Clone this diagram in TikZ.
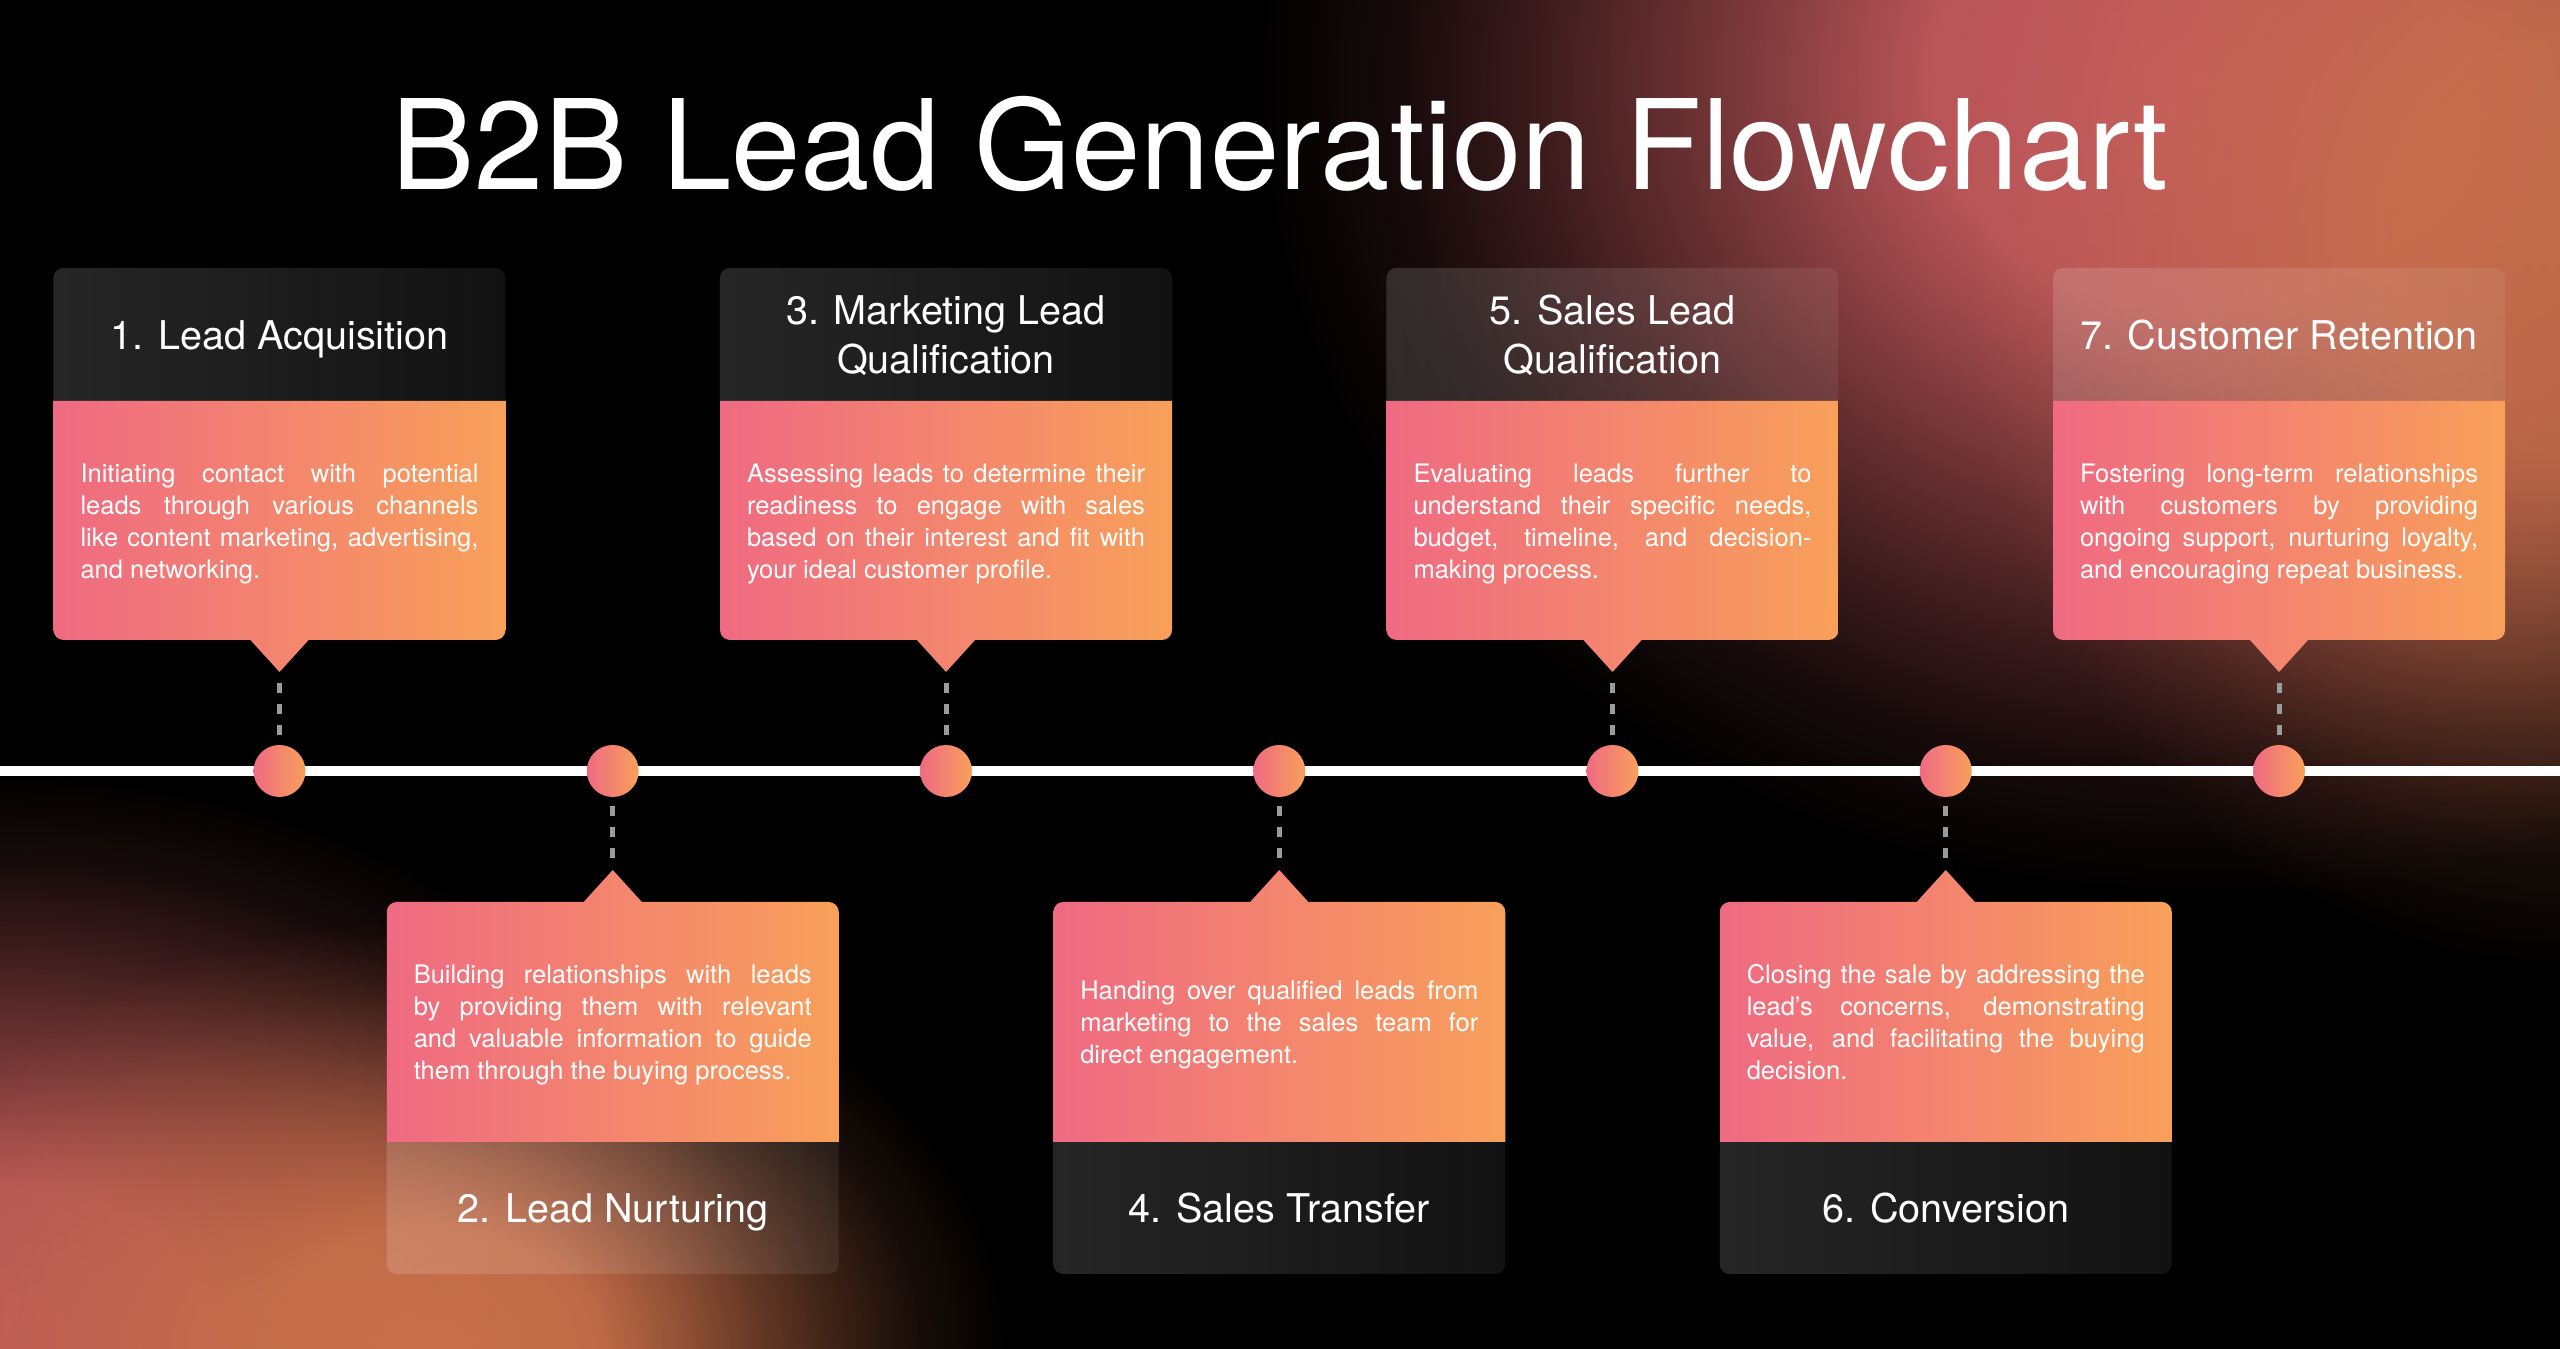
\documentclass[tikz,border=0pt]{standalone}
\usepackage{fontspec}
\setmainfont{TeX Gyre Heros}
\usetikzlibrary{fadings}

\definecolor{pinkL}{HTML}{EF6A82}
\definecolor{orR}{HTML}{F8A05A}
\definecolor{dashgray}{HTML}{9B9B9B}
\definecolor{glowA}{HTML}{C45A5E}
\definecolor{glowB}{HTML}{C8704C}
\definecolor{glowC}{HTML}{BE5A5A}
\definecolor{glowD}{HTML}{C8704A}

\pgfdeclareradialshading{glowsh}{\pgfpointorigin}{color(0bp)=(white); color(7bp)=(white!95!black); color(12.5bp)=(white!60!black); color(17.5bp)=(white!30!black); color(21bp)=(white!12!black); color(25bp)=(black); color(50bp)=(black)}
\tikzfading[name=glowfade, shading=glowsh]
\tikzfading[name=hdrfade, left color=transparent!85, right color=transparent!93]

\newcommand{\bodysetup}{\hyphenpenalty=10000 \tolerance=9999 \emergencystretch=0pt \noindent\strut}

\tikzset{
  cardbody/.style={left color=pinkL, right color=orR},
  cardhead/.style={fill=white, path fading=hdrfade},
  headtext/.style={text=white, font=\fontsize{19.8}{24.5}\selectfont, align=center, anchor=north, inner sep=0pt},
  bodytext/.style={text=white, font=\fontsize{12.75}{16}\selectfont, text width=199pt, align=justify, anchor=north, inner sep=0pt},
  conn/.style={draw=dashgray, line width=2.5pt, dash pattern=on 5pt off 5.5pt},
  dot/.style={circle, minimum size=26pt, inner sep=0pt, left color=pinkL, right color=orR},
  timeline/.style={draw=white, line width=5pt},
  glow/.style={path fading=glowfade},
}

\newcommand{\TopCard}[5]{%
  \shade[cardbody, rounded corners=5pt] ({#2-226},709) -- ({#2+226},709) -- ({#2+226},948) -- ({#2-226},948) -- cycle
     [sharp corners] ({#2-226},928) -- ({#2+226},928) -- ({#2+226},948) -- ({#2-226},948) -- cycle
     ({#2},677) -- ({#2+30},710) -- ({#2-30},710) -- cycle;
  \fill[cardhead, rounded corners=5pt] ({#2-226},948) -- ({#2+226},948) -- ({#2+226},1081) -- ({#2-226},1081) -- cycle
     [sharp corners] ({#2-226},948) -- ({#2+226},948) -- ({#2+226},968) -- ({#2-226},968) -- cycle;
  \node[headtext] (h#1) at (#2,#4) {\strut #3};
  \node[bodytext] (b#1) at (#2,889.7) {\bodysetup #5};
  \coordinate (tip#1) at (#2,677);
}

\newcommand{\BotCard}[5]{%
  \shade[cardbody, rounded corners=5pt] ({#2-226},207) -- ({#2+226},207) -- ({#2+226},447) -- ({#2-226},447) -- cycle
     [sharp corners] ({#2-226},207) -- ({#2+226},207) -- ({#2+226},227) -- ({#2-226},227) -- cycle
     ({#2-30},446) -- ({#2+30},446) -- ({#2},479) -- cycle;
  \fill[cardhead, rounded corners=5pt] ({#2-226},75) -- ({#2+226},75) -- ({#2+226},207) -- ({#2-226},207) -- cycle
     [sharp corners] ({#2-226},187) -- ({#2+226},187) -- ({#2+226},207) -- ({#2-226},207) -- cycle;
  \node[headtext] (h#1) at (#2,161.3) {\strut #3};
  \node[bodytext] (b#1) at (#2,#5) {\bodysetup #4};
  \coordinate (tip#1) at (#2,479);
}

\begin{document}
\begin{tikzpicture}[x=0.5pt, y=0.5pt]
\useasboundingbox (0,0) rectangle (2560,1349);
\fill[black] (0,0) rectangle (2560,1349);

% background glows
\begin{scope}
\clip (0,0) rectangle (2560,1349);
\fill[glowA, glow] (2200,1269) ellipse (950 and 820);
\fill[glowB, glow, fill opacity=0.9] (2560,1099) ellipse (600 and 720);
\fill[glowC, glow] (0,0) ellipse (760 and 580);
\fill[glowD, glow] (430,0) ellipse (580 and 430);
\end{scope}

% title
\node[text=white, font=\fontsize{62.4}{70}\selectfont, anchor=base] (title) at (1280,1159) {B2B Lead Generation Flowchart};

% timeline
\coordinate (tlL) at (0,578);
\coordinate (tlR) at (2560,578);
\draw[timeline] (tlL) -- (tlR);

% cards
\TopCard{1}{279.5}{1. Lead Acquisition}{1034.3}{Initiating contact with potential\linebreak leads through various channels\linebreak like content marketing, advertising,\linebreak and networking.}
\TopCard{3}{946}{3. Marketing Lead\\Qualification}{1059.3}{Assessing leads to determine their\linebreak readiness to engage with sales\linebreak based on their interest and fit with\linebreak your ideal customer profile.}
\TopCard{5}{1612.5}{5. Sales Lead\\Qualification}{1059.3}{Evaluating leads further to\linebreak understand their specific needs,\linebreak budget, timeline, and decision-\linebreak making process.}
\TopCard{7}{2279}{7. Customer Retention}{1034.3}{Fostering long-term relationships\linebreak with customers by providing\linebreak ongoing support, nurturing loyalty,\linebreak and encouraging repeat business.}

\BotCard{2}{612.75}{2. Lead Nurturing}{Building relationships with leads\linebreak by providing them with relevant\linebreak and valuable information to guide\linebreak them through the buying process.}{388.25}
\BotCard{4}{1279.25}{4. Sales Transfer}{Handing over qualified leads from\linebreak marketing to the sales team for\linebreak direct engagement.}{372.25}
\BotCard{6}{1945.75}{6. Conversion}{Closing the sale by addressing the\linebreak lead's concerns, demonstrating\linebreak value, and facilitating the buying\linebreak decision.}{388.25}

% timeline dots
\node[dot] (d1) at (279.5,578) {};
\node[dot] (d2) at (612.75,578) {};
\node[dot] (d3) at (946,578) {};
\node[dot] (d4) at (1279.25,578) {};
\node[dot] (d5) at (1612.5,578) {};
\node[dot] (d6) at (1945.75,578) {};
\node[dot] (d7) at (2279,578) {};

% connectors
\foreach \i in {1,3,5,7} {\draw[conn, shorten <=5.5pt, shorten >=5pt] (tip\i) -- (d\i);}
\foreach \i in {2,4,6} {\draw[conn, shorten <=6pt, shorten >=4.5pt] (tip\i) -- (d\i);}
\end{tikzpicture}
\end{document}
